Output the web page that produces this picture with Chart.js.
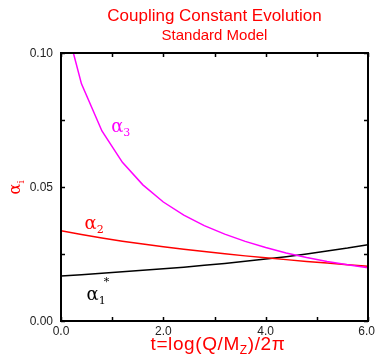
<!DOCTYPE html>
<html><head><meta charset="utf-8">
<script src="https://cdn.jsdelivr.net/npm/chart.js@4"></script>
<style>html,body{margin:0;padding:0;background:#fff}#wrap{width:376px;height:356px}</style>
</head><body><div id="wrap"><canvas id="c" width="376" height="356"></canvas></div>
<script>
// ---- data ----
const tValues = [0.0,0.4,0.8,1.2,1.6,2.0,2.4,2.8,3.2,3.6,4.0,4.4,4.8,5.2,5.6,6.0];
const alpha1 = [0.0168,0.0173,0.0178,0.0184,0.0189,0.0195,0.0201,0.0208,0.0215,0.0223,0.0231,0.0240,0.0250,0.0261,0.0272,0.0285];
const alpha2 = [0.0337,0.0323,0.0310,0.0298,0.0287,0.0277,0.0268,0.0259,0.0251,0.0243,0.0236,0.0229,0.0222,0.0216,0.0210,0.0204];
const alpha3 = [0.1176,0.0885,0.0709,0.0592,0.0508,0.0444,0.0395,0.0356,0.0324,0.0297,0.0274,0.0254,0.0237,0.0222,0.0210,0.0199];
const xTickValues = [0,2,4,6];
const xTickLabels = ["0.0","2.0","4.0","6.0"];
const xMinorTicks = [1,3,5];
const yTickValues = [0,0.05,0.10];
const yTickLabels = ["0.00","0.05","0.10"];
const yMinorTicks = [0.025,0.075];
const titleText = "Coupling Constant Evolution";
const subtitleText = "Standard Model";
// series labels: [main, subscript, superscript] and anchor in data units
const seriesLabels = [
  {main:"α", sub:"3", sup:"", t:0.98, v:0.0705, color:"#ff00ff"},
  {main:"α", sub:"2", sup:"", t:0.46, v:0.0343, color:"#ff0000"},
  {main:"α", sub:"1", sup:"*", t:0.50, v:0.0080, color:"#000000"}
];

const toPts = arr => tValues.map((t,i)=>({x:t,y:arr[i]}));
const SANS = '"Liberation Sans", Arial, sans-serif';
const SERIF = '"DejaVu Serif", "Liberation Serif", serif';

const decor = {
  id:'decor',
  afterDatasetsDraw(chart){
    const ctx = chart.ctx, a = chart.chartArea;
    const xs = chart.scales.x, ys = chart.scales.y;
    ctx.save();
    // frame
    ctx.strokeStyle = '#000'; ctx.lineWidth = 2;
    ctx.strokeRect(a.left, a.top, a.right - a.left, a.bottom - a.top);
    // ticks inward
    ctx.lineWidth = 1.5;
    const tl = 4;
    ctx.beginPath();
    [...xTickValues, ...xMinorTicks].forEach(v=>{
      const px = Math.round(xs.getPixelForValue(v))+0.5;
      ctx.moveTo(px, a.bottom); ctx.lineTo(px, a.bottom - tl);
      ctx.moveTo(px, a.top); ctx.lineTo(px, a.top + tl);
    });
    [...yTickValues, ...yMinorTicks].forEach(v=>{
      const py = Math.round(ys.getPixelForValue(v))+0.5;
      ctx.moveTo(a.left, py); ctx.lineTo(a.left + tl, py);
      ctx.moveTo(a.right, py); ctx.lineTo(a.right - tl, py);
    });
    ctx.stroke();
    // tick labels
    ctx.fillStyle = '#222';
    ctx.font = '12px ' + SANS;
    ctx.textAlign = 'right'; ctx.textBaseline = 'middle';
    yTickValues.forEach((v,i)=>{
      ctx.fillText(yTickLabels[i], a.left - 8, ys.getPixelForValue(v) + 1);
    });
    ctx.textAlign = 'center'; ctx.textBaseline = 'middle';
    xTickValues.forEach((v,i)=>{
      let px = xs.getPixelForValue(v);
      const w = ctx.measureText(xTickLabels[i]).width;
      if (px + w/2 > chart.width - 1) px = chart.width - 1 - w/2;
      ctx.fillText(xTickLabels[i], px, a.bottom + 11);
    });
    // titles
    ctx.fillStyle = '#ff0000';
    ctx.textBaseline = 'alphabetic';
    const cx = (a.left + a.right)/2;
    ctx.font = '17px ' + SANS;
    ctx.fillText(titleText, cx, 21);
    ctx.font = '15px ' + SANS;
    ctx.fillText(subtitleText, cx, 40);
    // x axis title with subscript
    const parts = [
      {t:"t=log(Q/M", f:'19px '+SANS, dy:0},
      {t:"Z", f:'12px '+SANS, dy:4},
      {t:")/2π", f:'19px '+SANS, dy:0}
    ];
    ctx.letterSpacing = '0.6px';
    let tw = 0;
    parts.forEach(p=>{ctx.font=p.f; p.w=ctx.measureText(p.t).width; tw+=p.w;});
    let x0 = 218 - tw/2;
    ctx.textAlign = 'left';
    parts.forEach(p=>{ctx.font=p.f; ctx.fillText(p.t, x0, 350 + p.dy); x0 += p.w;});
    ctx.letterSpacing = '0px';
    // y axis title (rotated)
    ctx.save();
    ctx.translate(20, (a.top + a.bottom)/2);
    ctx.rotate(-Math.PI/2);
    ctx.textAlign = 'left';
    ctx.font = '16px ' + SERIF;
    const aw = ctx.measureText("α").width;
    ctx.fillText("α", -aw/2 - 2, 0);
    ctx.font = '10px ' + SERIF;
    ctx.fillText("i", aw/2 - 2, 4);
    ctx.restore();
    // series labels
    seriesLabels.forEach(s=>{
      const px = xs.getPixelForValue(s.t), py = ys.getPixelForValue(s.v);
      ctx.fillStyle = s.color;
      ctx.textAlign = 'left';
      ctx.font = '18px ' + SERIF;
      ctx.fillText(s.main, px, py);
      const mw = ctx.measureText(s.main).width;
      ctx.font = '11px ' + SERIF;
      ctx.fillText(s.sub, px + mw, py + 4);
      if (s.sup) { ctx.font = '11px ' + SERIF; ctx.fillText(s.sup, px + mw + 5, py - 15); }
    });
    ctx.restore();
  }
};

new Chart(document.getElementById('c'), {
  type:'line',
  data:{datasets:[
    {label:'alpha3', data:toPts(alpha3), borderColor:'#ff00ff', borderWidth:1.5},
    {label:'alpha2', data:toPts(alpha2), borderColor:'#ff0000', borderWidth:1.5},
    {label:'alpha1', data:toPts(alpha1), borderColor:'#000000', borderWidth:1.5}
  ]},
  options:{
    responsive:false, animation:false, devicePixelRatio:1,
    layout:{padding:{left:61, top:53, right:8, bottom:35}},
    elements:{point:{radius:0}, line:{tension:0}},
    plugins:{legend:{display:false}, tooltip:{enabled:false}, title:{display:false}},
    scales:{
      x:{type:'linear', min:0, max:6, display:false},
      y:{type:'linear', min:0, max:0.1, display:false}
    }
  },
  plugins:[decor]
});
</script></body></html>
